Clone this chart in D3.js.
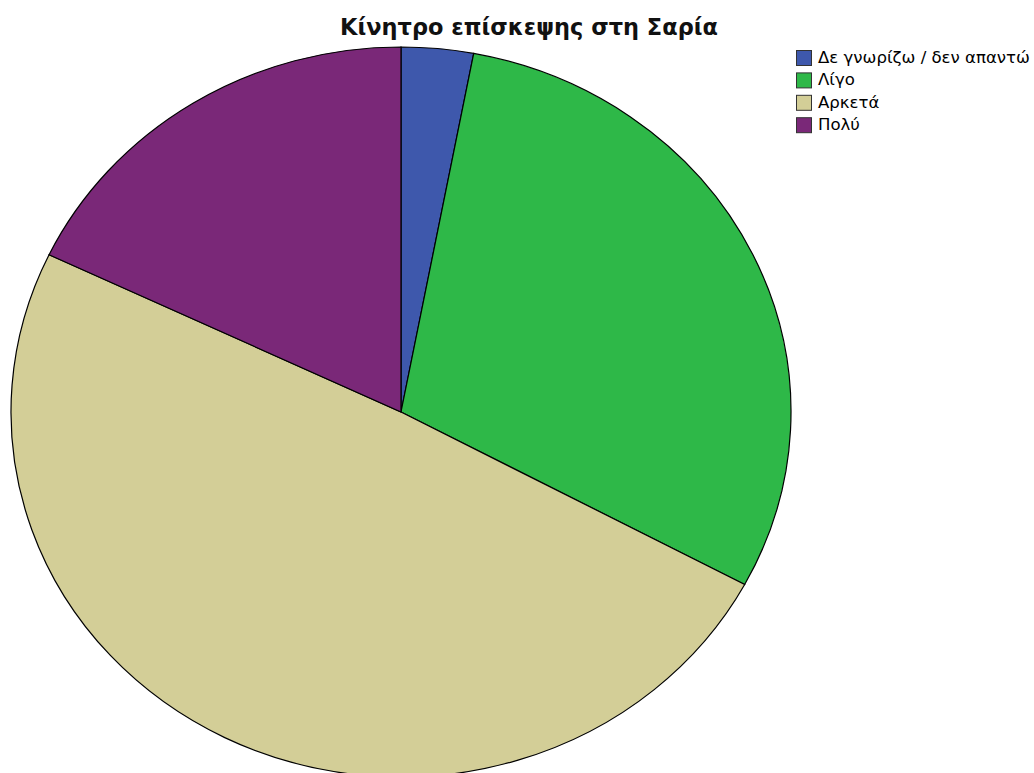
<!DOCTYPE html>
<html>
<head>
<meta charset="utf-8">
<script src="https://cdn.jsdelivr.net/npm/d3@7"></script>
<style>
  html, body { margin: 0; padding: 0; background: #fff; }
  svg { display: block; font-family: "DejaVu Sans", Verdana, sans-serif; }
</style>
</head>
<body>
<svg id="chart" width="1034" height="773"></svg>
<script>
// Response categories and counts
const categories = ["Δε γνωρίζω / δεν απαντώ", "Λίγο", "Αρκετά", "Πολύ"];
const counts = [2, 20, 33, 12];
const colors = ["#3e58ac", "#2eb848", "#d3ce97", "#7a2878"];
const title = "Κίνητρο επίσκεψης στη Σαρία";

const svg = d3.select("#chart");
const W = 1034, H = 773;
// The pie is drawn as an ellipse (circle scaled vertically)
const cx = 401, cy = 412, rx = 390, ry = 365;

svg.append("rect").attr("width", W).attr("height", H).attr("fill", "#fff");

const pie = d3.pie().sort(null).value(d => d)(counts);
const arc = d3.arc().innerRadius(0).outerRadius(rx);

svg.append("g")
  .attr("transform", `translate(${cx},${cy}) scale(1,${ry / rx})`)
  .selectAll("path")
  .data(pie)
  .join("path")
  .attr("d", arc)
  .attr("fill", (d, i) => colors[i])
  .attr("stroke", "#000")
  .attr("stroke-width", 1.2)
  .attr("vector-effect", "non-scaling-stroke");

// Size a text element so it spans the given width
function fitWidth(sel, width) {
  const node = sel.node();
  const fs = parseFloat(sel.attr("font-size"));
  const len = node.getComputedTextLength();
  sel.attr("font-size", (fs * width / len).toFixed(2));
}

const titleText = svg.append("text")
  .attr("x", 529).attr("y", 35)
  .attr("text-anchor", "middle")
  .attr("font-size", 22)
  .attr("font-weight", "bold")
  .attr("fill", "#111")
  .text(title);
fitWidth(titleText, 378);

const legend = svg.append("g").attr("transform", "translate(796,50)");
const rowH = 22.4;
const items = legend.selectAll("g").data(categories).join("g")
  .attr("transform", (d, i) => `translate(0,${i * rowH})`);
items.append("rect")
  .attr("x", 0.5).attr("y", 0.5).attr("width", 15).attr("height", 15)
  .attr("fill", (d, i) => colors[i])
  .attr("stroke", "#333").attr("stroke-width", 1);
const labels = items.append("text")
  .attr("x", 22).attr("y", 13)
  .attr("font-size", 14)
  .attr("fill", "#000")
  .text(d => d);
// scale all legend labels by the longest one
const first = labels.filter((d, i) => i === 0);
const len0 = first.node().getComputedTextLength();
labels.attr("font-size", (14 * 212 / len0).toFixed(2));
</script>
</body>
</html>
